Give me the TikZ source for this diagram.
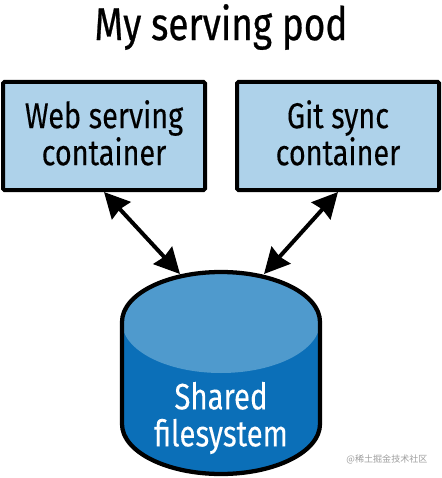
\documentclass[tikz,border=0pt]{standalone}
\usepackage{fontspec}
\setmainfont[FakeStretch=0.8,FakeBold=0.15]{Fira Sans}
\newfontfamily\cjk{Noto Sans CJK SC}
\newfontfamily\titlefont[FakeStretch=0.8,FakeBold=0.5]{Fira Sans}
\usetikzlibrary{arrows.meta}
\definecolor{boxblue}{HTML}{AED2EA}
\definecolor{cyldark}{HTML}{0B6FB8}
\definecolor{cyllight}{HTML}{4F9ACD}
\newcommand{\lowerfix}{\rule[-5pt]{0pt}{0pt}}
\tikzset{
  x=0.75pt,y=-0.75pt,
  contbox/.style={draw=black,fill=boxblue,line width=3pt,rounded corners=1pt,minimum width=202*0.75pt,minimum height=108*0.75pt,inner sep=0pt,align=center,font=\fontsize{27}{27.75}\selectfont},
  link/.style={line width=3pt,{Stealth[length=19pt,width=19pt,inset=1.5pt]}-{Stealth[length=19pt,width=19pt,inset=1.5pt]}},
  cylline/.style={draw=black,line width=3.2pt},
}
\begin{document}
\begin{tikzpicture}
\useasboundingbox (0,0) rectangle (442,478);
\node[font=\titlefont\fontsize{34.6}{38}\selectfont,inner sep=0pt] (title) at (221,27) {My serving pod};
\node[contbox] (web) at (104,136) {Web serving\\container\lowerfix};
\node[contbox] (git) at (338,136) {Git sync\\container\lowerfix};
% cylinder
\fill[cyldark] (122,322) -- (122,424) arc[start angle=180,end angle=0,x radius=99,y radius=50] -- (320,322) arc[start angle=0,end angle=-180,x radius=99,y radius=50] -- cycle;
\fill[cyllight] (221,322) ellipse[x radius=99,y radius=51];
\draw[cylline] (122,322) -- (122,424) arc[start angle=180,end angle=0,x radius=99,y radius=50] -- (320,322) arc[start angle=0,end angle=-180,x radius=99,y radius=50] -- cycle;
\node[text=white,align=center,inner sep=0pt,font=\fontsize{27.5}{27.75}\selectfont] (fs) at (221,418) {Shared\\filesystem};
\coordinate (fsl) at (180,274);
\coordinate (fsr) at (264,274);
\draw[link] (web.south) -- (fsl);
\draw[link] (git.south) -- (fsr);
\node[text=black!38,inner sep=0pt,font=\cjk\fontsize{6.8}{9}\selectfont] (mark) at (387,459) {@稀土掘金技术社区};
\end{tikzpicture}
\end{document}
